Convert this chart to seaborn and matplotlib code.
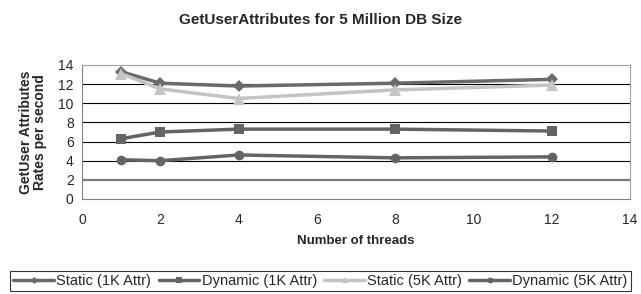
"""
GetUserAttributes throughput vs number of threads.
"""

import pandas as pd
import seaborn as sns
import matplotlib.pyplot as plt


THREADS = [1, 2, 4, 8, 12]
STATIC_1K = [13.3, 12.1, 11.8, 12.1, 12.5]
DYNAMIC_1K = [6.3, 7.0, 7.3, 7.3, 7.1]
STATIC_5K = [13.1, 11.5, 10.5, 11.4, 11.9]
DYNAMIC_5K = [4.1, 4.0, 4.6, 4.3, 4.4]

SERIES_NAMES = [
    "Static (1K Attr)",
    "Dynamic (1K Attr)",
    "Static (5K Attr)",
    "Dynamic (5K Attr)",
]


def build_dataframe() -> pd.DataFrame:
    rows = []
    for name, values in zip(
        SERIES_NAMES, [STATIC_1K, DYNAMIC_1K, STATIC_5K, DYNAMIC_5K]
    ):
        for t, v in zip(THREADS, values):
            rows.append({"Threads": t, "Rate": v, "Series": name})
    return pd.DataFrame(rows)


def main() -> None:
    sns.set_style("white")
    plt.rcParams["font.family"] = ["Liberation Sans", "DejaVu Sans"]

    df = build_dataframe()

    fig = plt.figure(figsize=(6.41, 2.94), dpi=100)
    ax = fig.add_axes([82 / 641, 1 - 199 / 294, 548 / 641, 134 / 294])

    palette = {
        "Static (1K Attr)": "#6a6a6a",
        "Dynamic (1K Attr)": "#646464",
        "Static (5K Attr)": "#c4c4c4",
        "Dynamic (5K Attr)": "#646464",
    }
    markers = {
        "Static (1K Attr)": "D",
        "Dynamic (1K Attr)": "s",
        "Static (5K Attr)": "^",
        "Dynamic (5K Attr)": "o",
    }
    sizes = {"D": 6, "s": 7, "^": 8, "o": 7}

    for name in SERIES_NAMES:
        sub = df[df["Series"] == name]
        m = markers[name]
        sns.lineplot(
            data=sub, x="Threads", y="Rate", ax=ax,
            color=palette[name], marker=m, markersize=sizes[m],
            markeredgewidth=0, linewidth=2.5, label=name, zorder=3,
        )

    ax.set_xlim(0, 14)
    ax.set_ylim(0, 14)
    ax.set_xticks(range(0, 15, 2))
    ax.set_yticks(range(0, 15, 2))
    for y in range(2, 14, 2):
        ax.axhline(y, color="#7a7a7a" if y == 2 else "black",
                   linewidth=1.6 if y == 2 else 0.8, zorder=1)

    for side in ["top", "right"]:
        ax.spines[side].set_color("#a0a0a0")
        ax.spines[side].set_linewidth(0.8)
    for side in ["left", "bottom"]:
        ax.spines[side].set_color("#808080")
        ax.spines[side].set_linewidth(0.8)
    ax.tick_params(axis="both", length=4, width=0.8, color="#808080",
                   labelsize=10, direction="out", pad=2)
    ax.tick_params(axis="x", pad=6)

    ax.set_xlabel("Number of threads", fontsize=9.5, fontweight="bold",
                  labelpad=6)
    ax.set_ylabel("GetUser Attributes\nRates per second", fontsize=10,
                  fontweight="bold", labelpad=8, linespacing=1.05)
    fig.suptitle("GetUserAttributes for 5 Million DB Size", fontsize=11,
                 fontweight="bold", y=0.955)

    ax.legend_.remove()
    handles, labels = ax.get_legend_handles_labels()
    leg = fig.legend(
        handles, labels, loc="lower center", ncol=4,
        bbox_to_anchor=(0.5, 0.0), frameon=True, fontsize=10.5,
        handlelength=2.8, handletextpad=0.15, columnspacing=0.5,
        borderpad=0.2, borderaxespad=0.2, fancybox=False,
        markerscale=0.6,
    )
    leg.get_frame().set_edgecolor("black")
    leg.get_frame().set_linewidth(0.8)

    fig.savefig("out.png", dpi=100)


if __name__ == "__main__":
    main()
